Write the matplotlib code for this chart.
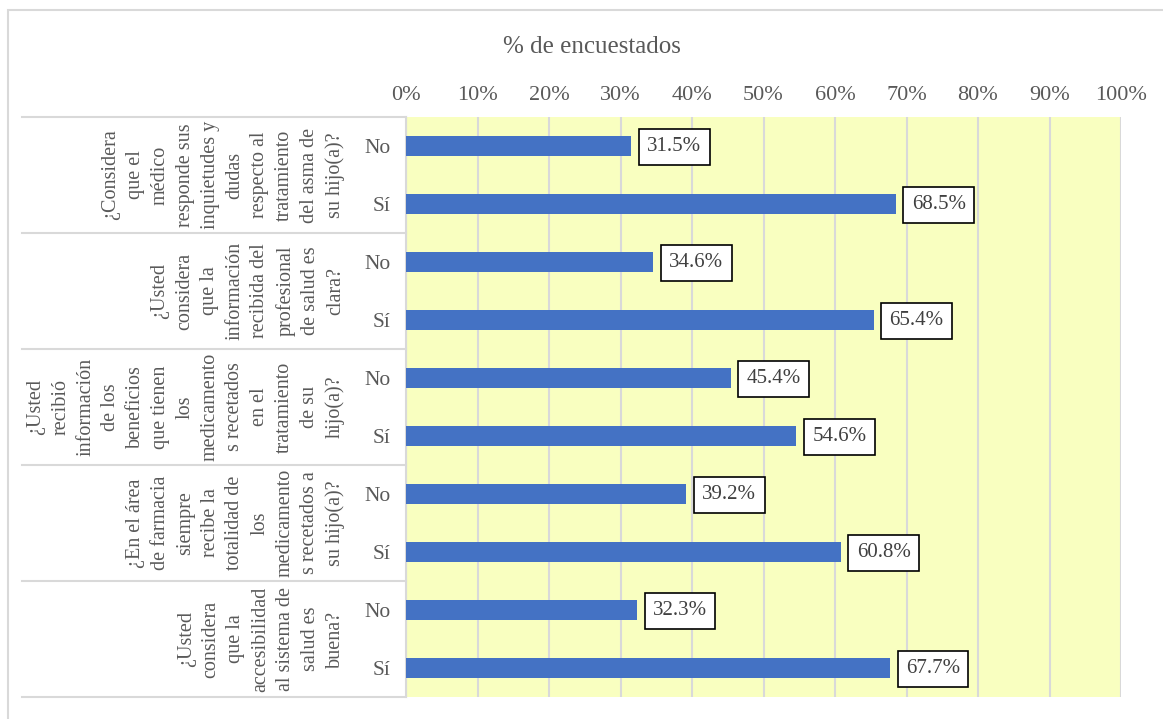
import matplotlib.pyplot as plt
from matplotlib.patches import Rectangle

plt.rcParams['font.family'] = ['Liberation Serif', 'DejaVu Serif']

# survey questions (one per group) and the answers inside each group
questions = [
    "¿Considera\nque el\nmédico\nresponde sus\ninquietudes y\ndudas\nrespecto al\ntratamiento\ndel asma de\nsu hijo(a)?",
    "¿Usted\nconsidera\nque la\ninformación\nrecibida del\nprofesional\nde salud es\nclara?",
    "¿Usted\nrecibió\ninformación\nde los\nbeneficios\nque tienen\nlos\nmedicamento\ns recetados\nen el\ntratamiento\nde su\nhijo(a)?",
    "¿En el área\nde farmacia\nsiempre\nrecibe la\ntotalidad de\nlos\nmedicamento\ns recetados a\nsu hijo(a)?",
    "¿Usted\nconsidera\nque la\naccesibilidad\nal sistema de\nsalud es\nbuena?",
]
answers = ["No", "Sí"]
pct_no = [31.5, 34.6, 45.4, 39.2, 32.3]
pct_si = [68.5, 65.4, 54.6, 60.8, 67.7]
xticks = [0, 10, 20, 30, 40, 50, 60, 70, 80, 90, 100]

W, H = 1163, 719
fig = plt.figure(figsize=(W / 100, H / 100), dpi=100)
ax = fig.add_axes([406 / W, 1 - 697 / H, 715 / W, 580 / H])
ax.set_facecolor('#F9FFC0')

# interleave No / Sí rows
values, labels = [], []
for n, s in zip(pct_no, pct_si):
    values += [n, s]
    labels += answers
pos = list(range(len(values)))

ax.barh(pos, values, height=0.35, color='#4472C4', zorder=3)

for p, v in zip(pos, values):
    ax.annotate(f"{v:.1f}%", xy=(v, p), xytext=(11.5, -0.5), textcoords='offset points',
                ha='left', va='center', fontsize=15, color='#404040', zorder=5,
                bbox=dict(boxstyle='square,pad=0.4', fc='white', ec='black', lw=1.2))

ax.set_xlim(0, 100)
ax.set_ylim(len(values) - 0.5, -0.5)
ax.set_xticks(xticks)
ax.set_xticklabels([f"{t}%" for t in xticks])
ax.xaxis.tick_top()
ax.set_yticks(pos)
ax.set_yticklabels(labels)
ax.tick_params(axis='x', length=0, pad=9, labelsize=16, labelcolor='#595959')
ax.tick_params(axis='y', length=0, pad=11, labelsize=15.5, labelcolor='#595959')
ax.grid(axis='x', color='#D9D9D9', lw=1.5, zorder=1)
for sp in ['top', 'bottom', 'right']:
    ax.spines[sp].set_visible(False)
ax.spines['left'].set_color('#D9D9D9')
ax.spines['left'].set_linewidth(1.5)

# group separators and question labels
ytr = ax.get_yaxis_transform()
x_left = (22 - 406) / 715
x_text = (345 - 406) / 715
for i in range(len(questions) + 1):
    yb = 2 * i - 0.5
    ax.plot([x_left, 0], [yb, yb], transform=ytr, color='#D9D9D9', lw=1.5, clip_on=False)
for i, q in enumerate(questions):
    ax.text(x_text, 2 * i + 0.5, q, transform=ytr, rotation=90, ha='right', va='center',
            multialignment='center', fontsize=14.5, color='#595959', linespacing=1.42)

fig.text(592 / W, 1 - 47 / H, "% de encuestados", ha='center', va='center',
         fontsize=18, color='#595959')

# chart frame
fig.patches.append(Rectangle((8 / W, -0.05), 1.2, 1 - 10 / H + 0.05, transform=fig.transFigure,
                             fill=False, ec='#D9D9D9', lw=1.5))

fig.savefig('out.png', dpi=100)
